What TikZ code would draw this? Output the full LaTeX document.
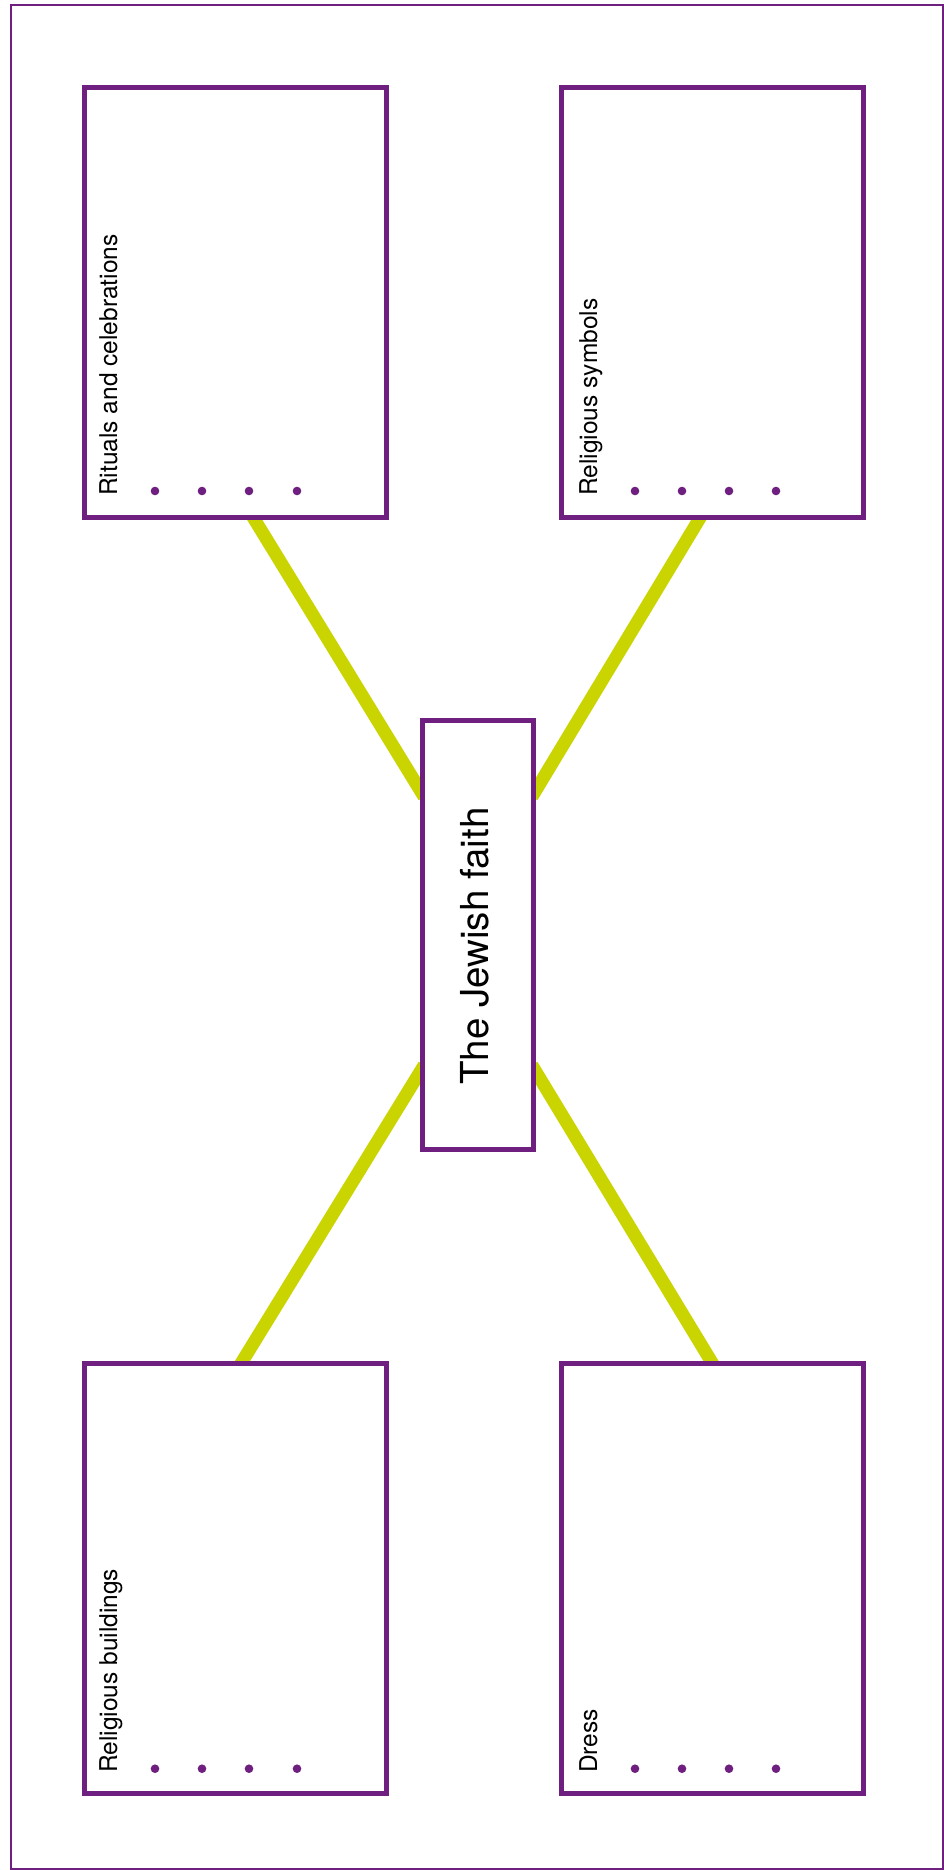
\documentclass[tikz,border=0pt]{standalone}
\usepackage{fontspec}
\setmainfont{TeX Gyre Heros}
\usetikzlibrary{calc}
\definecolor{jpurple}{RGB}{111,31,127}
\definecolor{jlime}{RGB}{202,212,0}
\pgfdeclarelayer{bg}
\pgfsetlayers{bg,main}
\begin{document}
\begin{tikzpicture}[x=1pt,y=-1pt,
  box/.style={draw=jpurple, line width=5pt, fill=white, inner sep=0pt, minimum width=302pt, minimum height=429.5pt},
  hub/.style={draw=jpurple, line width=5pt, fill=white, inner sep=0pt, minimum width=111pt, minimum height=429pt},
  link/.style={draw=jlime, line width=13pt, shorten <=-8pt, shorten >=-8pt},
  lbl/.style={inner sep=0pt, anchor=base west, rotate=90, font=\fontsize{24.5}{29}\selectfont},
  bigl/.style={inner sep=0pt, anchor=base west, rotate=90, font=\fontsize{38.5}{46}\selectfont},
  dotc/.style={fill=jpurple}]
\useasboundingbox (0,0) rectangle (944,1870);
\begin{pgfonlayer}{bg}
\fill[white] (0,0) rectangle (944,1870);
\end{pgfonlayer}
\draw[jpurple, line width=2pt] (10.5,5.5) rectangle (943.2,1869.2);
% boxes
\node[box] (tl) at (235.5,302.25) {};
\node[box] (tr) at (712,302.25) {};
\node[box] (bl) at (235.5,1578.25) {};
\node[box] (br) at (712,1578.25) {};
\node[hub] (c) at (478,934.5) {};
% connectors
\begin{pgfonlayer}{bg}
\draw[link] ([xshift=19pt]tl.south) -- ([yshift=144.5pt]c.west);
\draw[link] ([xshift=-13pt]tr.south) -- ([yshift=144.5pt]c.east);
\draw[link] ([xshift=7pt]bl.north) -- ([yshift=-137.5pt]c.west);
\draw[link] ([xshift=-1pt]br.north) -- ([yshift=-137.5pt]c.east);
\end{pgfonlayer}
% labels
\node[lbl] (tlt) at (117,496) {Rituals and celebrations};
\node[lbl] (trt) at (597,496) {Religious symbols};
\node[lbl] (blt) at (117,1773) {Religious buildings};
\node[lbl] (brt) at (597,1773) {Dress};
\node[bigl] (ct) at (488,1085) {The Jewish faith};
% dots
\foreach \x in {155,202,249,297} {
  \fill[dotc] (\x,491) circle (4.3pt);
  \fill[dotc] (\x,1768.7) circle (4.3pt);
}
\foreach \x in {635,682,729,776} {
  \fill[dotc] (\x,491) circle (4.3pt);
  \fill[dotc] (\x,1768.7) circle (4.3pt);
}
\end{tikzpicture}
\end{document}
